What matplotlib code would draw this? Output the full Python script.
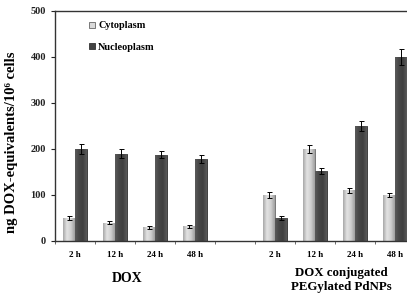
import numpy as np
import matplotlib.pyplot as plt
import matplotlib.transforms as mtransforms
from matplotlib.colors import LinearSegmentedColormap

plt.rcParams['font.family'] = ['Liberation Serif', 'DejaVu Serif']
plt.rcParams['font.weight'] = 'bold'

times = ["2 h", "12 h", "24 h", "48 h"]
groups = ["DOX", "DOX conjugated\nPEGylated PdNPs"]

cyto_dox = [50, 40, 30, 32]
nucleo_dox = [200, 190, 188, 178]
cyto_pd = [100, 200, 110, 100]
nucleo_pd = [50, 152, 250, 400]

cyto_dox_err = [5, 4, 3, 3]
nucleo_dox_err = [10, 9, 8, 9]
cyto_pd_err = [6, 8, 6, 5]
nucleo_pd_err = [4, 7, 11, 18]

# slot positions: 4 DOX, one empty gap, 4 PdNPs
pos = np.array([0, 1, 2, 3, 5, 6, 7, 8])
cyto = cyto_dox + cyto_pd
nucleo = nucleo_dox + nucleo_pd
cyto_err = cyto_dox_err + cyto_pd_err
nucleo_err = nucleo_dox_err + nucleo_pd_err

fig = plt.figure(figsize=(4.07, 3.02), dpi=100)
ax = fig.add_axes([55 / 407, 61 / 302, 360 / 407, 230 / 302])

w = 0.29
light_cmap = LinearSegmentedColormap.from_list("l", ["#a8a8a8", "#e2e2e2", "#d0d0d0", "#a0a0a0"])
dark_cmap = LinearSegmentedColormap.from_list("d", ["#5a5a5a", "#474747", "#404040", "#5a5a5a"])
grad = np.linspace(0, 1, 64).reshape(1, -1)


def shaded_bars(x, h, cmap, edge, label):
    bars = ax.bar(x, h, w, color=cmap(0.5), edgecolor=edge, linewidth=0.6,
                  label=label, zorder=2)
    for b in bars:
        im = ax.imshow(grad, cmap=cmap, aspect="auto", zorder=2.1,
                       extent=[b.get_x(), b.get_x() + b.get_width(), 0, b.get_height()])
        im.set_clip_path(b)
    return bars


shaded_bars(pos - w / 2, cyto, light_cmap, "#666666", "Cytoplasm")
shaded_bars(pos + w / 2, nucleo, dark_cmap, "#333333", "Nucleoplasm")
ax.errorbar(pos - w / 2, cyto, yerr=cyto_err, fmt="none", ecolor="black",
            elinewidth=0.7, capsize=1.8, capthick=0.7, zorder=3)
ax.errorbar(pos + w / 2, nucleo, yerr=nucleo_err, fmt="none", ecolor="black",
            elinewidth=0.7, capsize=1.8, capthick=0.7, zorder=3)

ax.set_xlim(-0.5, 8.5)
ax.set_ylim(0, 500)
ax.set_yticks([0, 100, 200, 300, 400, 500])
ax.tick_params(axis="y", labelsize=7.5, length=3, width=0.8, colors="#222222")

ax.set_xticks(pos)
ax.set_xticklabels(times * 2, fontsize=6.5)
ax.tick_params(axis="x", which="major", length=0, pad=7.5)
ax.set_xticks(np.arange(-0.5, 9, 1), minor=True)
ax.tick_params(axis="x", which="minor", length=2.5, width=0.6, colors="#555555")

for s in ["left", "bottom", "top"]:
    ax.spines[s].set_color("#333333")
    ax.spines[s].set_linewidth(1.0)
ax.spines["right"].set_visible(False)

ax.set_ylabel("ng DOX-equivalents/10\u2076 cells", fontsize=10.5, fontweight="bold")
ax.yaxis.set_label_coords(-0.102, 0.43)

trans = mtransforms.blended_transform_factory(ax.transData, ax.transAxes)
ax.text(1.3, -0.135, groups[0], transform=trans, ha="center", va="top", fontsize=10)
ax.text(6.65, -0.113, groups[1], transform=trans, ha="center", va="top", fontsize=9.3,
        linespacing=1.25)

ax.legend(loc="upper left", bbox_to_anchor=(0.07, 0.995), frameon=False, fontsize=7.4,
          handlelength=0.55, handleheight=0.55, handletextpad=0.3, labelspacing=1.2)

fig.savefig("out.png", dpi=100)
